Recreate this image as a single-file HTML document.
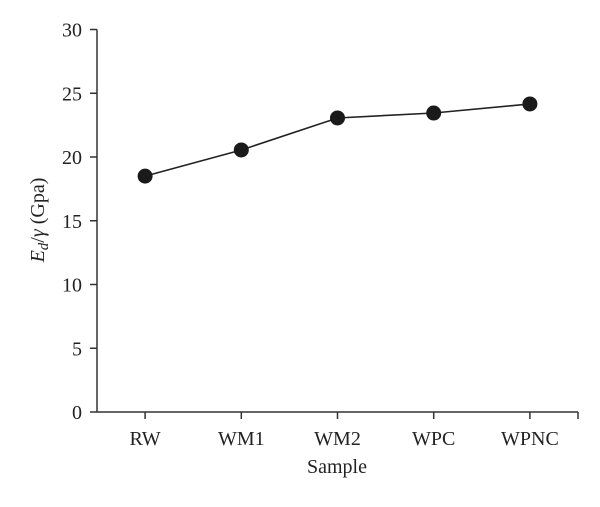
<!DOCTYPE html>
<html><head><meta charset="utf-8"><style>
body{margin:0;background:#fff;}
svg text{font-family:"Liberation Serif",serif;fill:#222;}
</style></head><body>
<svg width="600" height="502">
<g id="axes"></g>
<text x="337" y="473" font-size="20" text-anchor="middle">Sample</text>
<text transform="translate(44,220) rotate(-90)" font-size="20" text-anchor="middle"><tspan font-style="italic">E</tspan><tspan font-style="italic" font-size="15" dy="4">d</tspan><tspan dy="-4">/</tspan><tspan font-style="italic">γ</tspan> (Gpa)</text>
<g id="marks"></g>
</svg>
<script>
const categories=["RW","WM1","WM2","WPC","WPNC"];
const values=[18.5,20.55,23.06,23.45,24.16];
const yTicks=[0,5,10,15,20,25,30];
const NS="http://www.w3.org/2000/svg";
const x0=97,x1=578,yBase=412,yTop=29.5,yMax=30;
const bw=(x1-x0)/categories.length;
function xs(i){return x0+bw*(i+0.5);}
function ys(v){return yBase-(yBase-yTop)*v/yMax;}
function mk(t,a,p){const e=document.createElementNS(NS,t);for(const k in a)e.setAttribute(k,a[k]);p.appendChild(e);return e;}
const ax=document.getElementById('axes'),mg=document.getElementById('marks');
let e=mk('line',{x1:x0,y1:ys(30),x2:x0,y2:yBase,stroke:'#333','stroke-width':1.5},ax);

e=mk('line',{x1:x0,y1:yBase,x2:x1,y2:yBase,stroke:'#333','stroke-width':1.5},ax);

e=mk('line',{x1:x1,y1:yBase,x2:x1,y2:yBase+7,stroke:'#333','stroke-width':1.5},ax);

yTicks.forEach(v=>{
 let t=mk('line',{x1:x0-7,y1:ys(v),x2:x0,y2:ys(v),stroke:'#333','stroke-width':1.5},ax);
 
 let l=mk('text',{x:x0-15,y:ys(v)+7,'font-size':20,'text-anchor':'end'},ax);l.textContent=v;
 
});
categories.forEach((c,i)=>{
 let t=mk('line',{x1:xs(i),y1:yBase,x2:xs(i),y2:yBase+7,stroke:'#333','stroke-width':1.5},ax);
 
 let l=mk('text',{x:xs(i),y:445,'font-size':20,'text-anchor':'middle'},ax);l.textContent=c;
 
});
const line=mk('polyline',{points:values.map((v,i)=>xs(i)+','+ys(v)).join(' '),fill:'none',stroke:'#222','stroke-width':1.6},mg);

values.forEach((v,i)=>{
 const c=mk('circle',{cx:xs(i),cy:ys(v),r:7.5,fill:'#1a1a1a'},mg);
 
 
});
</script>
</body></html>
